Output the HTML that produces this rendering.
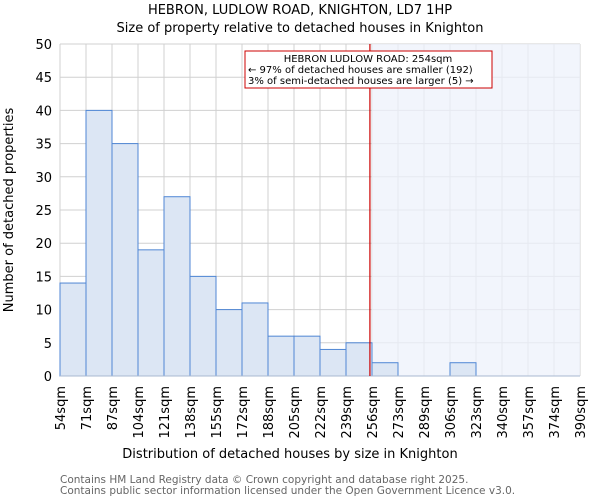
<!DOCTYPE html>
<html><head><meta charset="utf-8"><style>
body{margin:0;background:#fff}
svg{display:block;font-family:"DejaVu Sans","Liberation Sans",sans-serif}
</style></head><body>
<svg id="c" width="600" height="500">
<text x="300" y="14" text-anchor="middle" font-size="13">HEBRON, LUDLOW ROAD, KNIGHTON, LD7 1HP</text>
<text x="300" y="32" text-anchor="middle" font-size="13">Size of property relative to detached houses in Knighton</text>
<g id="grid"></g>
<rect id="shade" fill="#eef2fb" opacity="0.75"></rect>
<g id="bars"></g>
<g id="yt"></g>
<g id="xt"></g>
<line id="pline" stroke="#cc0000" stroke-width="1.2"></line>
<g>
<rect x="245" y="51" width="247" height="37" fill="#fff" stroke="#cc0000" stroke-width="1"></rect>
<text x="368" y="62" text-anchor="middle" font-size="10">HEBRON LUDLOW ROAD: 254sqm</text>
<text x="248" y="73" font-size="10">← 97% of detached houses are smaller (192)</text>
<text x="248" y="84" font-size="10">3% of semi-detached houses are larger (5) →</text>
</g>
<text x="290" y="458" text-anchor="middle" font-size="13">Distribution of detached houses by size in Knighton</text>
<text transform="translate(13,210) rotate(-90)" text-anchor="middle" font-size="13">Number of detached properties</text>
<text x="60" y="483" font-size="10.5" fill="#666">Contains HM Land Registry data © Crown copyright and database right 2025.</text>
<text x="60" y="494" font-size="10.5" fill="#666">Contains public sector information licensed under the Open Government Licence v3.0.</text>
</svg>
<script>
const binLabels=["54sqm","71sqm","87sqm","104sqm","121sqm","138sqm","155sqm","172sqm","188sqm","205sqm","222sqm","239sqm","256sqm","273sqm","289sqm","306sqm","323sqm","340sqm","357sqm","374sqm","390sqm"];
const counts=[14,40,35,19,27,15,10,11,6,6,4,5,2,0,0,2,0,0,0,0];
const yTicks=[0,5,10,15,20,25,30,35,40,45,50];
const propertyBin=11.92;
const NS="http://www.w3.org/2000/svg";
const X0=60,X1=580,Y0=376,Y1=44,YMAX=50;
const bw=(X1-X0)/counts.length;
const xs=i=>X0+i*bw;
const ys=v=>Y0-(v/YMAX)*(Y0-Y1);
function mk(t,a,p){const e=document.createElementNS(NS,t);for(const k in a)e.setAttribute(k,a[k]);p.appendChild(e);return e;}
const grid=document.getElementById('grid'),bars=document.getElementById('bars'),yt=document.getElementById('yt'),xt=document.getElementById('xt');
for(let i=0;i<binLabels.length;i++){const l=mk('line',{x1:xs(i),x2:xs(i),y1:Y1,y2:Y0,stroke:'#d0d0d0','stroke-width':1},grid);

}
yTicks.forEach(v=>{const l=mk('line',{x1:X0,x2:X1,y1:ys(v),y2:ys(v),stroke:'#d0d0d0','stroke-width':1},grid);


const t=mk('text',{x:X0-8,y:ys(v)+5,'text-anchor':'end','font-size':13},yt);t.textContent=v;

});
const px=xs(propertyBin);
const sh=document.getElementById('shade');sh.setAttribute('x',px+2);sh.setAttribute('y',Y1);sh.setAttribute('width',X1-px-2);sh.setAttribute('height',Y0-Y1);
counts.forEach((c,i)=>{if(c<=0)return;const r=mk('rect',{x:xs(i),y:ys(c),width:bw,height:Y0-ys(c),fill:'#dce6f4',stroke:'#4f86d4','stroke-width':1},bars);

});
mk('line',{x1:X0,x2:X1,y1:Y0,y2:Y0,stroke:'#a8b8d0','stroke-width':1},bars);
binLabels.forEach((s,i)=>{const x=xs(i);const t=mk('text',{x:0,y:0,'text-anchor':'end','font-size':13,transform:`translate(${x+5},${Y0+10}) rotate(-90)`},xt);t.textContent=s;

});
const pl=document.getElementById('pline');pl.setAttribute('x1',px);pl.setAttribute('x2',px);pl.setAttribute('y1',Y1);pl.setAttribute('y2',Y0);
</script>
</body></html>
